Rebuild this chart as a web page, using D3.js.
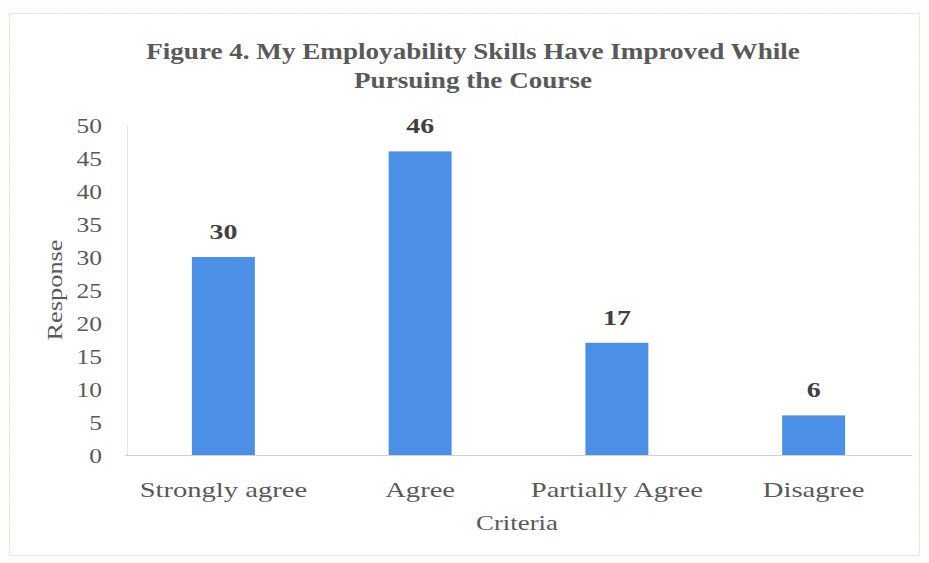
<!DOCTYPE html>
<html><head><meta charset="utf-8">
<script src="https://cdn.jsdelivr.net/npm/d3@7"></script>
<style>html,body{margin:0;padding:0;background:#fdfdfb;}svg{display:block;}</style>
</head><body>
<svg id="c" width="929" height="563"></svg>
<script>
const categories = ["Strongly agree", "Agree", "Partially Agree", "Disagree"];
const values = [30, 46, 17, 6];
const yTicks = [0, 5, 10, 15, 20, 25, 30, 35, 40, 45, 50];
const titleLines = ["Figure 4. My Employability Skills Have Improved While", "Pursuing the Course"];

const svg = d3.select("#c");
const W = 929, H = 563;
const m = {left: 125, right: 17, top: 125, bottom: 108};
const font = "'Liberation Serif', 'Times New Roman', serif";
const gray = "#595959";

svg.append("rect").attr("x", 9.5).attr("y", 13.5).attr("width", 910).attr("height", 542)
  .attr("fill", "#ffffff").attr("stroke", "#dadada").attr("stroke-dasharray", "2,1");

const x = d3.scaleBand().domain(categories).range([m.left, W - m.right]).paddingInner(0.68).paddingOuter(0.34);
const y = d3.scaleLinear().domain([0, 50]).range([H - m.bottom, m.top]);

// title
svg.append("g").selectAll("text").data(titleLines).join("text")
  .attr("transform", (d, i) => `translate(473,${59 + i * 29}) scale(1.13,1)`)
  .attr("text-anchor", "middle").attr("font-family", font).attr("font-weight", "bold")
  .attr("font-size", 24).attr("fill", gray).text(d => d);

// left faint vertical line
svg.append("line").attr("x1", m.left + 2.5).attr("x2", m.left + 2.5).attr("y1", y(50)).attr("y2", y(0))
  .attr("stroke", "#e6e6e6").attr("stroke-width", 1);

// bars
svg.append("g").selectAll("rect").data(values).join("rect")
  .attr("x", (d, i) => x(categories[i])).attr("width", x.bandwidth())
  .attr("y", d => y(d)).attr("height", d => y(0) - y(d)).attr("fill", "#4b8fe6");

// value labels
svg.append("g").selectAll("text").data(values).join("text")
  .attr("transform", (d, i) => `translate(${x(categories[i]) + x.bandwidth() / 2},${y(d) - 18}) scale(1.27,1)`)
  .attr("text-anchor", "middle").attr("font-family", font).attr("font-weight", "bold")
  .attr("font-size", 22).attr("fill", "#404040").text(d => d);

// y axis
const yAxis = svg.append("g").attr("transform", `translate(${m.left - 23},0)`)
  .call(d3.axisLeft(y).tickValues(yTicks).tickSize(0).tickPadding(0));
yAxis.select(".domain").remove();
yAxis.selectAll(".tick text").attr("x", null).attr("dy", "0.34em").attr("transform", "scale(1.16,1)")
  .attr("font-family", font).attr("font-size", 22).attr("fill", gray);

// x axis
const xAxis = svg.append("g").attr("transform", `translate(0,${y(0)})`)
  .call(d3.axisBottom(x).tickSize(0).tickPadding(0));
xAxis.select(".domain").attr("stroke", "#d0d0d0").attr("stroke-width", 1.2)
  .attr("d", `M${m.left},0.5H${W - m.right}`);
xAxis.selectAll(".tick text").attr("y", null).attr("dy", null).attr("transform", "translate(0,42) scale(1.3,1)")
  .attr("font-family", font).attr("font-size", 22).attr("fill", gray);

// axis titles
svg.append("text").attr("transform", `translate(62,${(y(0) + y(50)) / 2}) rotate(-90) scale(1.2,1)`)
  .attr("text-anchor", "middle").attr("font-family", font).attr("font-size", 22).attr("fill", gray).text("Response");
svg.append("text").attr("transform", "translate(517,530) scale(1.22,1)").attr("text-anchor", "middle")
  .attr("font-family", font).attr("font-size", 22).attr("fill", gray).text("Criteria");
</script>
</body></html>
